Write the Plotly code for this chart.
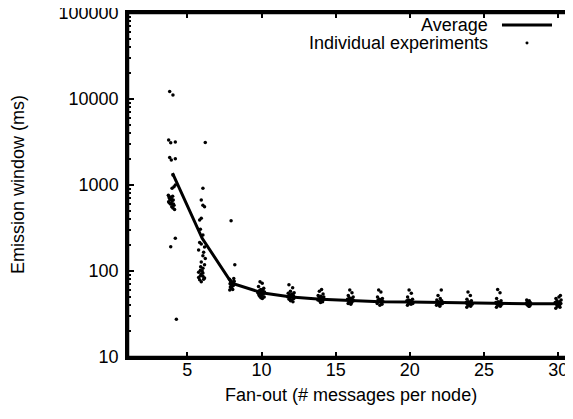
import plotly.graph_objects as go

# fan-out values and average emission window (ms)
fanout = [4, 6, 8, 10, 12, 14, 16, 18, 20, 22, 24, 26, 28, 30]
average = [1370, 240, 72, 56, 50, 47, 45.5, 44, 43.7, 43, 42.7, 42.3, 41.6, 41.6]

# individual experiments, one pair of lists per fan-out value
exp_x_4 = [3.81, 4.03, 3.74, 3.88, 4.19, 3.81, 3.92, 4.19, 4.03, 4.10, 3.97, 4.19,
           3.72, 3.76, 3.80, 3.84, 3.88, 3.92, 3.97, 4.01, 3.74, 3.78, 3.86, 3.93,
           4.05, 4.10, 3.95, 4.03, 4.06, 4.14, 4.19, 3.88, 4.26]
exp_y_4 = [12200, 11100, 3330, 3090, 3170, 2090, 1950, 2020, 1310, 955, 915, 1000,
           760, 730, 700, 680, 720, 690, 650, 740, 640, 620, 600, 610,
           670, 580, 560, 540, 600, 520, 240, 192, 27.5]

exp_x_6 = [6.21, 6.05, 5.94, 6.05, 6.16, 5.83, 5.94, 5.88, 6.05, 5.83, 5.94, 5.76,
           6.16, 6.10, 6.05, 6.21, 5.94, 6.16, 6.05, 5.88, 5.76, 5.94, 6.05, 6.16,
           5.83, 5.94, 6.05, 5.88, 6.10, 5.76, 6.00, 5.90]
exp_y_6 = [3130, 915, 670, 580, 560, 392, 410, 305, 263, 214, 206, 175,
           190, 165, 150, 140, 127, 118, 108, 102, 97, 92, 87, 83,
           79, 75, 95, 88, 80, 84, 100, 112]

exp_x_8 = [7.95, 8.20, 8.13, 7.85, 7.92, 8.00, 8.08, 7.88, 7.96, 8.04, 8.12, 7.90,
           7.98, 8.06, 7.86, 8.02, 8.10, 7.94, 8.16]
exp_y_8 = [385, 118, 82, 80, 77, 75, 73, 71, 69, 67, 72, 65,
           63, 61, 60, 70, 68, 74, 76]

exp_x_10 = [9.90, 10.05, 9.80, 10.15, 9.95, 10.10, 9.85, 10.00, 10.20, 9.75, 10.08,
            9.92, 10.12, 9.82, 10.02, 9.88, 10.18, 9.96, 10.06]
exp_y_10 = [75, 72, 66, 63, 61, 60, 59, 58, 57, 56, 55, 55, 54, 53, 52, 51, 50, 49, 48]

exp_x_12 = [11.85, 12.10, 11.95, 12.20, 11.80, 12.05, 11.90, 12.15, 12.00, 11.78,
            12.08, 11.92, 12.18, 11.86, 12.02, 11.96, 12.12]
exp_y_12 = [69, 64, 58, 56, 55, 54, 53, 52, 51, 50, 50, 49, 48, 47, 46, 45, 44]

exp_x_14 = [14.05, 13.90, 14.15, 13.82, 14.00, 14.20, 13.88, 14.10, 13.95, 14.18,
            13.80, 14.03, 13.92, 14.12, 13.98]
exp_y_14 = [61, 58, 54, 52, 51, 50, 49, 49, 48, 47, 46, 46, 45, 44, 43]

exp_x_16 = [15.95, 16.10, 15.85, 16.18, 15.92, 16.05, 15.80, 16.12, 16.00, 15.88,
            16.20, 15.96, 16.08, 15.84, 16.02]
exp_y_16 = [60, 56, 52, 50, 49, 48, 47, 47, 46, 45, 45, 44, 43, 42, 41]

exp_x_18 = [17.90, 18.05, 17.82, 18.15, 17.95, 18.10, 17.86, 18.00, 18.20, 17.92,
            18.08, 17.80, 18.12, 17.98]
exp_y_18 = [60, 57, 50, 48, 47, 46, 46, 45, 44, 44, 43, 42, 41, 40]

exp_x_20 = [19.95, 20.10, 19.85, 20.18, 19.92, 20.05, 19.80, 20.12, 20.00, 19.88,
            20.20, 19.96, 20.08, 19.84]
exp_y_20 = [60, 55, 50, 47, 46, 45, 45, 44, 44, 43, 42, 42, 41, 40]

exp_x_22 = [22.12, 21.90, 22.05, 21.82, 22.15, 21.95, 22.10, 21.86, 22.00, 22.20,
            21.92, 22.08, 21.80, 22.02]
exp_y_22 = [60, 52, 48, 46, 45, 44, 44, 43, 43, 42, 41, 41, 40, 39]

exp_x_24 = [23.92, 24.08, 23.85, 24.15, 23.95, 24.05, 23.80, 24.12, 24.00, 23.88,
            24.20, 23.96, 24.10, 23.84]
exp_y_24 = [57, 52, 47, 45, 44, 43, 43, 42, 42, 41, 41, 40, 39, 38]

exp_x_26 = [25.92, 26.08, 25.85, 26.15, 25.95, 26.05, 25.80, 26.12, 26.00, 25.88,
            26.20, 25.96, 26.10, 25.84]
exp_y_26 = [61, 56, 48, 45, 44, 43, 43, 42, 42, 41, 41, 40, 39, 38]

exp_x_28 = [27.88, 28.05, 27.92, 28.12, 27.96, 28.08, 27.85, 28.15, 28.00, 27.90,
            28.10, 27.94, 28.02, 28.06]
exp_y_28 = [46, 45, 44, 43, 43, 42, 42, 42, 41, 41, 40, 40, 39, 39]

exp_x_30 = [30.15, 30.05, 29.85, 30.20, 29.92, 30.10, 29.80, 30.00, 30.18, 29.88,
            30.08, 29.95, 30.12, 29.84]
exp_y_30 = [52, 50, 48, 46, 45, 44, 43, 42, 42, 41, 40, 39, 38, 37]

exp_x = (exp_x_4 + exp_x_6 + exp_x_8 + exp_x_10 + exp_x_12 + exp_x_14 + exp_x_16
         + exp_x_18 + exp_x_20 + exp_x_22 + exp_x_24 + exp_x_26 + exp_x_28 + exp_x_30)
exp_y = (exp_y_4 + exp_y_6 + exp_y_8 + exp_y_10 + exp_y_12 + exp_y_14 + exp_y_16
         + exp_y_18 + exp_y_20 + exp_y_22 + exp_y_24 + exp_y_26 + exp_y_28 + exp_y_30)

y_major = [10, 100, 1000, 10000, 100000]
y_labels = ["10", "100", "1000", "10000", "100000"]
y_minor = [m * d for d in [10, 100, 1000, 10000] for m in range(2, 10)]
x_ticks = [5, 10, 15, 20, 25, 30]

FONT = "Liberation Sans, Arial, sans-serif"

fig = go.Figure()
fig.add_trace(go.Scatter(x=exp_x, y=exp_y, mode="markers",
                         marker=dict(color="black", size=3.5),
                         name="Individual experiments", showlegend=False))
fig.add_trace(go.Scatter(x=fanout, y=average, mode="lines",
                         line=dict(color="black", width=3),
                         name="Average", showlegend=False))

axis_common = dict(showline=True, linecolor="black", linewidth=2.5, mirror="allticks",
                   ticks="inside", tickcolor="black", showgrid=False, zeroline=False,
                   ticklabeloverflow="allow", automargin=False,
                   tickfont=dict(family=FONT, size=18, color="black"))

fig.update_xaxes(range=[1, 31], tickvals=x_ticks, ticklen=5, tickwidth=2,
                 ticklabelstandoff=-5, **axis_common)
fig.update_yaxes(type="log", range=[1, 5], tickvals=y_major, ticktext=y_labels,
                 ticklen=6, tickwidth=2, ticklabelstandoff=3,
                 minor=dict(tickvals=y_minor, ticks="inside", ticklen=3, tickwidth=2,
                            tickcolor="black"),
                 **axis_common)

# plot border, drawn explicitly so the top edge is always there
fig.add_shape(type="rect", xref="paper", yref="paper", x0=0, x1=1, y0=0, y1=1,
              line=dict(color="black", width=2.5), layer="above")

# gnuplot style key: text on the left, sample on the right
fig.add_annotation(text="Average", xref="paper", yref="paper", x=0.8135, y=0.965,
                   xanchor="right", yanchor="middle", showarrow=False,
                   font=dict(family=FONT, size=18, color="black"))
fig.add_annotation(text="Individual experiments", xref="paper", yref="paper",
                   x=0.8135, y=0.9128, xanchor="right", yanchor="middle",
                   showarrow=False, font=dict(family=FONT, size=18, color="black"))
fig.add_shape(type="line", xref="paper", yref="paper", x0=0.8404, x1=0.9528,
              y0=0.965, y1=0.965, line=dict(color="black", width=3))
fig.add_shape(type="circle", xref="paper", yref="paper", x0=0.8932, x1=0.9000,
              y0=0.9085, y1=0.9171, fillcolor="black", line=dict(width=0))

# axis titles
fig.add_annotation(text="Emission window (ms)", xref="paper", yref="paper",
                   x=-0.247, y=0.5, textangle=-90, xanchor="center", yanchor="middle",
                   showarrow=False, font=dict(family=FONT, size=18, color="black"))
fig.add_annotation(text="Fan-out (# messages per node)", xref="paper", yref="paper",
                   x=0.5, y=-0.1105, xanchor="center", yanchor="middle",
                   showarrow=False, font=dict(family=FONT, size=18, color="black"))

# the page adds an 8px body margin, so the figure is sized to fit around it
fig.update_layout(width=565, height=411, plot_bgcolor="white", paper_bgcolor="white",
                  margin=dict(l=120, r=0, t=5, b=62), showlegend=False)

fig.write_html("out.html")
